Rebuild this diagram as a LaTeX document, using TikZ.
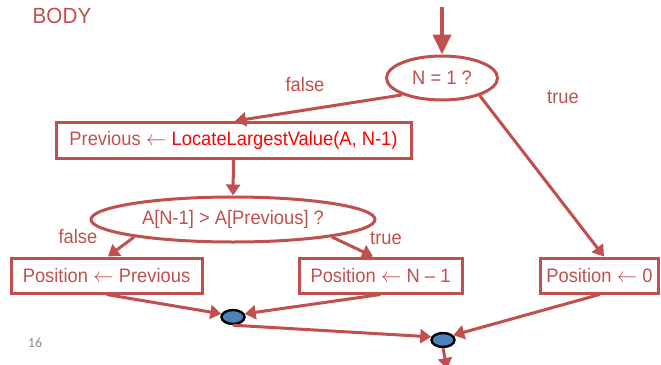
\documentclass[tikz,border=0pt]{standalone}
\usepackage{fontspec}
\setmainfont{Liberation Sans}[FakeStretch=0.94]
\newfontfamily\numfont{Carlito}
\usetikzlibrary{shapes.geometric,arrows.meta}
\definecolor{dred}{HTML}{C0504D}
\definecolor{dotblue}{HTML}{4F81BD}
\definecolor{pgray}{HTML}{8C8C8C}
\begin{document}
\begin{tikzpicture}[x=1pt,y=-1pt,
  lab/.style={font=\fontsize{19.5}{19.5}\selectfont, text=dred, inner sep=0pt},
  box/.style={draw=dred, line width=3pt, rectangle, minimum height=35pt, inner sep=0pt,
              font=\fontsize{19.5}{19.5}\selectfont, text=dred},
  dec/.style={draw=dred, line width=3pt, ellipse, inner sep=0pt,
              font=\fontsize{19.5}{19.5}\selectfont, text=dred},
  dot/.style={draw=black, line width=2.4pt, fill=dotblue, ellipse,
              minimum width=23pt, minimum height=14pt, inner sep=0pt},
  conn/.style={draw=dred, line width=3pt, -{Triangle[length=11pt,width=14pt]}},
  bigconn/.style={draw=dred, line width=4pt, -{Triangle[length=20pt,width=18pt]}},
]
\useasboundingbox (0,0) rectangle (661,364);
\node[lab, font=\fontsize{22}{22}\selectfont] (body) at (62,16) {BODY};
\coordinate (start) at (442,7);
\node[dec, minimum width=111pt, minimum height=44pt] (n1) at (442,78) {N = 1 ?};
\node[box, minimum width=355pt, minimum height=36pt] (prev) at (233.5,140.5)
  {Previous $\leftarrow$ \textcolor{red}{LocateLargestValue(A, N-1)}};
\node[dec, minimum width=284pt, minimum height=45pt] (cmp) at (233,219.5) {A[N-1] > A[Previous] ?};
\node[box, minimum width=191pt] (p1) at (106.5,275.5) {Position $\leftarrow$ Previous};
\node[box, minimum width=163pt] (p2) at (380.5,275.5) {Position $\leftarrow$ N -- 1};
\node[box, minimum width=118pt] (p3) at (599.5,275.5) {Position $\leftarrow$ 0};
\node[dot] (d1) at (233,317) {};
\node[dot] (d2) at (443,340) {};
\coordinate (out) at (447,369);

\node[lab] (lf1) at (305,85) {false};
\node[lab] (lt1) at (563,97) {true};
\node[lab] (lf2) at (78,237) {false};
\node[lab] (lt2) at (386,238) {true};
\node[font=\numfont\fontsize{14}{14}\selectfont, text=pgray, inner sep=0pt] (pg) at (35,343) {16};

\draw[bigconn] (start) -- (n1.north);
\draw[conn] (n1.203) -- ([xshift=1.5pt]prev.north);
\draw[conn] (n1.335) -- ([xshift=4.5pt]p3.north);
\draw[conn] (prev.south) -- (cmp.north);
\draw[conn] (cmp.190) -- ([xshift=1.5pt]p1.north);
\draw[conn] (cmp.350) -- ([xshift=-7.5pt]p2.north);
\draw[conn] (p1.south) -- (d1.165);
\draw[conn] (p2.south) -- (d1.15);
\draw[conn] (d1.south) -- (d2.165);
\draw[conn] (p3.south) -- (d2.25);
\draw[conn] (d2.south) -- (out);
\end{tikzpicture}
\end{document}
